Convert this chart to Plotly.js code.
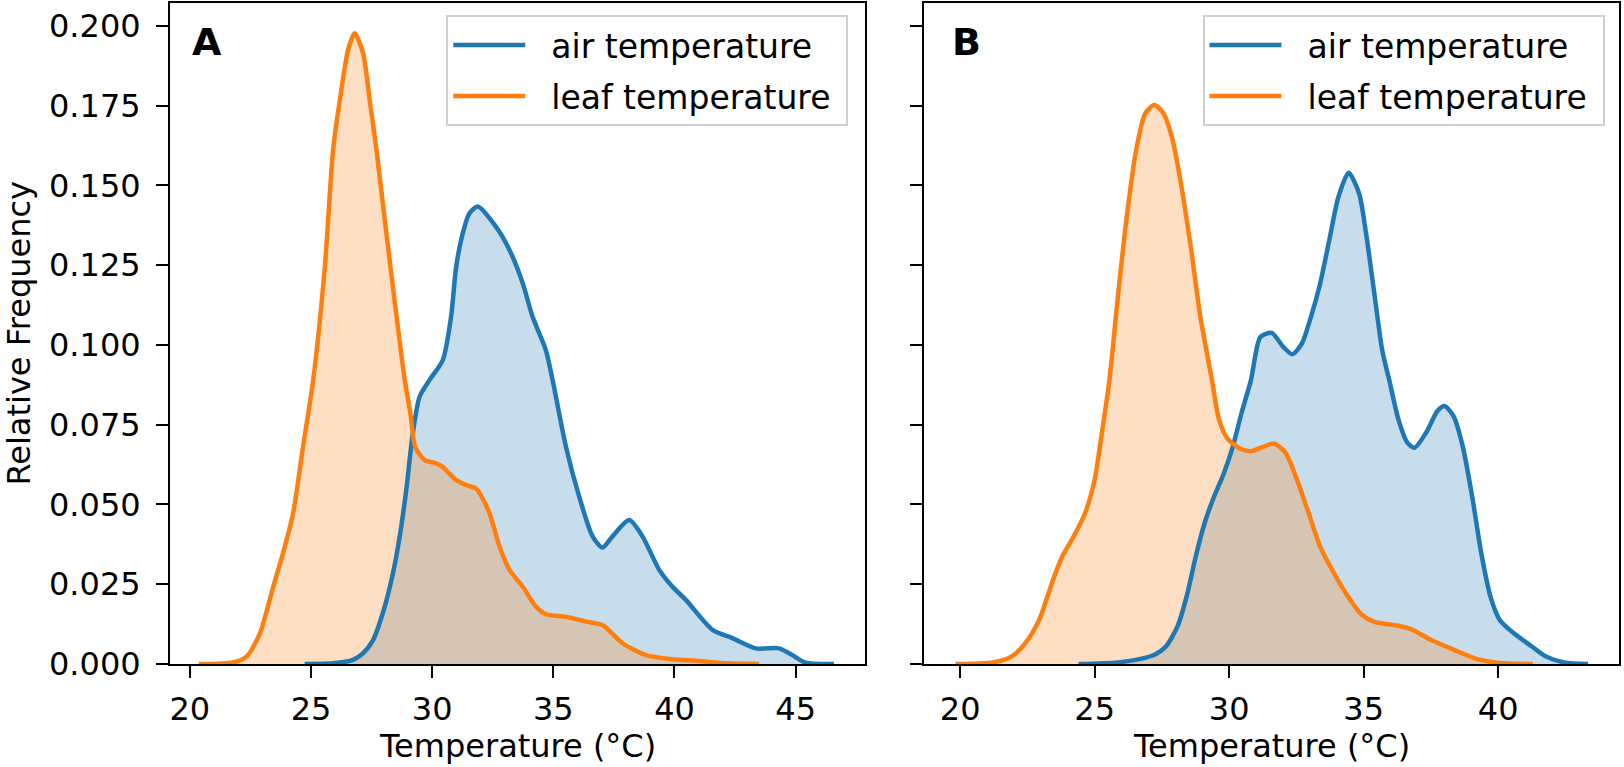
<!DOCTYPE html>
<html>
<head>
<meta charset="utf-8">
<script src="https://cdn.plot.ly/plotly-3.0.1.min.js"></script>
<style>
  html, body { margin: 0; padding: 0; background: #fff; }
  #chart { width: 1624px; height: 767px; }
</style>
</head>
<body>
<div id="chart"></div>
<script>
// panel A
const airTempA = [24.74, 25.91, 26.73, 27.15, 27.56, 27.96, 28.38, 28.66, 28.93, 29.2, 29.48, 29.89, 30.44, 30.78, 30.99, 31.26, 31.54, 31.88, 32.63, 33.19, 33.74, 34.14, 34.69, 34.97, 35.52, 36.07, 36.62, 37.03, 37.44, 38.13, 38.68, 39.37, 39.92, 40.47, 41.57, 42.39, 43.35, 44.31, 44.86, 45.41, 46.58];
const airDensA = [0, 0.0002, 0.0013, 0.0034, 0.0075, 0.0159, 0.0284, 0.04, 0.0545, 0.0723, 0.0838, 0.089, 0.0953, 0.1089, 0.1245, 0.135, 0.1413, 0.1434, 0.1371, 0.1298, 0.1193, 0.1089, 0.0984, 0.089, 0.0681, 0.0524, 0.04, 0.0365, 0.04, 0.0451, 0.04, 0.0295, 0.0242, 0.0201, 0.0107, 0.0081, 0.0049, 0.0049, 0.0028, 0.0004, 0];

const leafTempA = [20.37, 21.78, 22.34, 22.89, 23.44, 23.92, 24.26, 24.67, 25.09, 25.57, 25.91, 26.19, 26.53, 26.8, 27.15, 27.42, 27.7, 28.11, 28.53, 28.87, 29.1, 29.3, 29.68, 30.16, 30.43, 30.98, 31.4, 31.81, 32.0, 32.37, 32.78, 33.19, 33.74, 34.28, 34.69, 35.52, 36.35, 37.03, 37.86, 38.82, 39.92, 40.88, 42.25, 43.49];
const leafDensA = [0, 0.0005, 0.0023, 0.0096, 0.0242, 0.0368, 0.0472, 0.0681, 0.089, 0.1245, 0.1611, 0.1768, 0.1925, 0.1977, 0.1914, 0.1768, 0.1611, 0.135, 0.1089, 0.089, 0.0786, 0.068, 0.064, 0.0629, 0.0618, 0.0577, 0.0561, 0.055, 0.053, 0.0472, 0.0368, 0.0295, 0.0242, 0.018, 0.0156, 0.0148, 0.0133, 0.0122, 0.0065, 0.0028, 0.0015, 0.001, 0.0002, 0];

// panel B
const airTempB = [24.4, 25.85, 26.71, 27.22, 27.65, 28.08, 28.42, 28.76, 29.1, 29.44, 29.79, 30.13, 30.47, 30.81, 31.16, 31.58, 32.01, 32.35, 32.7, 33.04, 33.38, 33.72, 34.06, 34.44, 34.83, 35.09, 35.43, 35.69, 35.95, 36.29, 36.63, 36.89, 37.32, 37.74, 38.0, 38.34, 38.68, 39.03, 39.37, 39.71, 40.05, 40.57, 41.25, 41.76, 42.45, 43.34];
const airDensB = [0, 0.0005, 0.0016, 0.0029, 0.0055, 0.0118, 0.0212, 0.0338, 0.0445, 0.0525, 0.0595, 0.068, 0.079, 0.089, 0.1025, 0.1038, 0.0994, 0.0971, 0.1004, 0.1088, 0.1192, 0.1328, 0.1464, 0.154, 0.1475, 0.1349, 0.114, 0.0983, 0.089, 0.0767, 0.0693, 0.0678, 0.0725, 0.0793, 0.0809, 0.0777, 0.0683, 0.0526, 0.0348, 0.0212, 0.0139, 0.0097, 0.0055, 0.0024, 0.0005, 0];

const leafTempB = [19.83, 21.23, 21.92, 22.43, 22.94, 23.46, 23.8, 24.23, 24.65, 25.0, 25.25, 25.55, 25.85, 26.19, 26.54, 26.88, 27.22, 27.56, 27.9, 28.25, 28.59, 28.93, 29.36, 29.62, 29.96, 30.47, 30.81, 31.33, 31.67, 32.1, 32.52, 32.95, 33.38, 33.89, 34.41, 34.92, 35.43, 36.29, 36.8, 37.49, 38.34, 39.2, 40.05, 41.28];
const leafDensB = [0, 0.0005, 0.0024, 0.0066, 0.0139, 0.0265, 0.0338, 0.0401, 0.0474, 0.0578, 0.0714, 0.089, 0.114, 0.14, 0.161, 0.1726, 0.1752, 0.1726, 0.1642, 0.1485, 0.1297, 0.1088, 0.089, 0.0767, 0.0704, 0.0673, 0.0667, 0.0683, 0.0691, 0.0662, 0.0578, 0.0474, 0.0369, 0.0286, 0.0212, 0.0155, 0.0131, 0.012, 0.0108, 0.0076, 0.0045, 0.0016, 0.0003, 0];

const seriesNames = ['\u00a0\u00a0air temperature\u00a0', '\u00a0\u00a0leaf temperature\u00a0'];
const panelLabels = ['A', 'B'];
const xTitle = 'Temperature (°C)';
const yTitle = 'Relative Frequency';
const yTicks = [0, 0.025, 0.05, 0.075, 0.1, 0.125, 0.15, 0.175, 0.2];

const blue = '#1f77b4';
const orange = '#ff7f0e';
const blueFill = 'rgba(31,119,180,0.25)';
const orangeFill = 'rgba(255,127,14,0.25)';
const fontFam = 'DejaVu Sans, sans-serif';
const fs = 32;

const panels = [
    { xa: 'x', ya: 'y', leg: 'legend', air: [airTempA, airDensA], leaf: [leafTempA, leafDensA] },
    { xa: 'x2', ya: 'y2', leg: 'legend2', air: [airTempB, airDensB], leaf: [leafTempB, leafDensB] }
];

let fills = [];
let lines = [];
panels.forEach(p => {
    [[p.air, blue, blueFill, seriesNames[0]], [p.leaf, orange, orangeFill, seriesNames[1]]].forEach(s => {
        // shaded area first, outlines on top
        fills.push({
            x: s[0][0], y: s[0][1], xaxis: p.xa, yaxis: p.ya,
            type: 'scatter', mode: 'lines', fill: 'tozeroy', fillcolor: s[2],
            line: { width: 0, shape: 'spline', smoothing: 0.7 },
            showlegend: false, hoverinfo: 'skip'
        });
        lines.push({
            x: s[0][0], y: s[0][1], xaxis: p.xa, yaxis: p.ya,
            type: 'scatter', mode: 'lines', name: s[3], legend: p.leg, legendgroup: p.leg + s[3],
            line: { color: s[1], width: 4.5, shape: 'spline', smoothing: 0.7 }
        });
    });
});
let dataHolder = fills.concat(lines);

const axisBase = {
    showline: true,
    mirror: true,
    linecolor: '#000',
    linewidth: 2,
    ticks: 'outside',
    ticklen: 12,
    tickwidth: 2,
    tickcolor: '#000',
    showgrid: false,
    zeroline: false,
    tickfont: { family: fontFam, size: fs, color: '#000' }
};

const legendBase = {
    font: { family: fontFam, size: 33, color: '#000' },
    bgcolor: 'rgba(255,255,255,0.8)',
    bordercolor: '#d0d0d0',
    borderwidth: 2,
    xref: 'paper',
    yref: 'paper',
    xanchor: 'right',
    yanchor: 'top',
    itemwidth: 72,
    traceorder: 'grouped',
    tracegroupgap: 5
};

// pixel -> paper helpers for the margin texts
const px = X => (X - 170) / 1449;
const py = Y => (664 - Y) / 661;

let notes = panelLabels.map((t, i) => ({
    text: '<b>' + t + '</b>',
    xref: i === 0 ? 'x domain' : 'x2 domain',
    yref: i === 0 ? 'y domain' : 'y2 domain',
    x: i === 0 ? 0.029 : 0.037,
    y: 0.9405,
    xanchor: 'left',
    yanchor: 'middle',
    showarrow: false,
    font: { family: fontFam, size: 38, color: '#000' }
}));
// axis titles
['x domain', 'x2 domain'].forEach(xr => notes.push({
    text: xTitle, xref: xr, yref: 'paper', x: 0.5, y: py(745.6),
    xanchor: 'center', yanchor: 'middle', showarrow: false,
    font: { family: fontFam, size: fs, color: '#000' }
}));
notes.push({
    text: yTitle, xref: 'paper', yref: 'y domain', x: px(18), y: 0.5, textangle: -90,
    xanchor: 'center', yanchor: 'middle', showarrow: false,
    font: { family: fontFam, size: fs, color: '#000' }
});

let layout = {
    width: 1624,
    height: 767,
    margin: { l: 170, r: 5, t: 3, b: 103 },
    paper_bgcolor: '#fff',
    plot_bgcolor: '#fff',
    font: { family: fontFam, size: fs, color: '#000' },
    xaxis: Object.assign({}, axisBase, {
        domain: [0, 0.4796],
        range: [19.18, 47.86],
        tickvals: [20, 25, 30, 35, 40, 45],
        ticklabelstandoff: 4,
        anchor: 'y'
    }),
    yaxis: Object.assign({}, axisBase, {
        range: [0, 0.2072],
        tickvals: yTicks,
        tickformat: '.3f',
        ticklabelstandoff: 9,
        anchor: 'x'
    }),
    xaxis2: Object.assign({}, axisBase, {
        domain: [0.5206, 1],
        range: [18.67, 44.49],
        tickvals: [20, 25, 30, 35, 40],
        ticklabelstandoff: 4,
        anchor: 'y2'
    }),
    yaxis2: Object.assign({}, axisBase, {
        range: [0, 0.2072],
        tickvals: yTicks,
        showticklabels: false,
        anchor: 'x2'
    }),
    legend: Object.assign({}, legendBase, { x: 0.4681, y: 0.9818 }),
    legend2: Object.assign({}, legendBase, { x: 0.990, y: 0.9818 }),
    annotations: notes,
    showlegend: true
};

Plotly.newPlot('chart', dataHolder, layout, { displayModeBar: false, staticPlot: true });
</script>
</body>
</html>
